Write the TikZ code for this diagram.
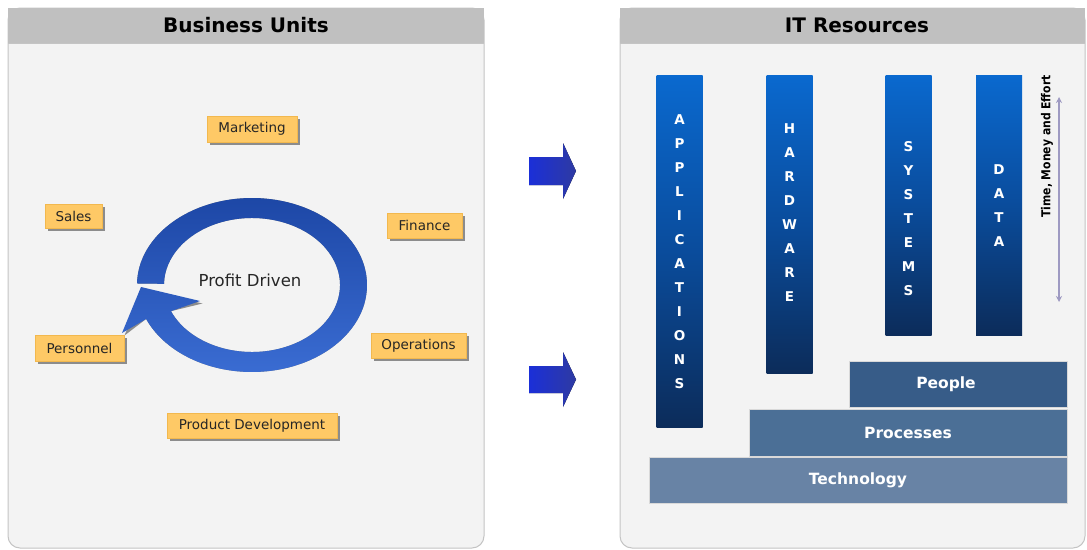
\documentclass[tikz,border=0pt]{standalone}
\usepackage{fontspec}
\setmainfont{DejaVu Sans}
\usetikzlibrary{calc,shadows,arrows.meta}
\definecolor{panelbg}{HTML}{F3F3F3}
\definecolor{panelline}{HTML}{C4C4C4}
\definecolor{headbg}{HTML}{C0C0C0}
\definecolor{boxfill}{HTML}{FEC966}
\definecolor{boxline}{HTML}{F2B84E}
\definecolor{ringtop}{HTML}{1D47A6}
\definecolor{ringbot}{HTML}{3A6CD2}
\definecolor{arrL}{HTML}{1B2FD8}
\definecolor{arrR}{HTML}{2E3AA2}
\definecolor{barTop}{HTML}{0A69CF}
\definecolor{barMid}{HTML}{0A4C9C}
\definecolor{barBot}{HTML}{0C2C5A}
\definecolor{peoplec}{HTML}{375C88}
\definecolor{procc}{HTML}{4B6F96}
\definecolor{techc}{HTML}{6883A5}
\definecolor{tmecol}{HTML}{9E9AC2}
\tikzset{
  panelbody/.style={fill=panelbg, draw=panelline, line width=1pt, rounded corners=12pt},
  panelhead/.style={fill=headbg, draw=none},
  headtext/.style={font=\fontsize{20}{23}\selectfont\bfseries, text=black},
  ybox/.style={fill=boxfill, draw=boxline, line width=0.4pt, inner sep=0pt,
     font=\fontsize{13.5}{15}\selectfont, text=black!85,
     drop shadow={shadow xshift=2.5pt, shadow yshift=-2.5pt, fill=black!55, opacity=0.8}},
  vbar/.style={shade, top color=barTop, bottom color=barBot, middle color=barMid,
     draw=none, inner sep=0pt, minimum width=46pt},
  vtext/.style={align=center, text=white, font=\fontsize{13.5}{24}\selectfont\bfseries, inner sep=0pt},
  layer/.style={draw=white!85!black, line width=0.8pt, inner sep=0pt, text=white,
     font=\fontsize{15.5}{18}\selectfont\bfseries},
  bluearrow/.style={left color=arrL, right color=arrR, draw=none}
}
\begin{document}
\begin{tikzpicture}[x=1pt,y=-1pt]
\useasboundingbox[fill=white] (0,0) rectangle (1087,549);

% ---------- left panel ----------
\path[panelbody] (8,8) rectangle (484,548);
\fill[panelhead] (8,8) rectangle (484,43);
\draw[panelline, line width=1pt] (8,43) -- (484,43);
\node[headtext] (buhead) at (246,25.5) {Business Units};

% circular arrow
\coordinate (c) at (252,285);
\path[fill=black!45, shift={(2.5,2.5)}]
  ($(c)+(181:115 and 87)$) arc[start angle=181, end angle=517, x radius=115, y radius=87]
  -- (122,333) -- (141,287) -- (200,301)
  -- ($(c)+(517:88 and 67)$) arc[start angle=517, end angle=181, x radius=88, y radius=67]
  -- cycle;
\path[top color=ringtop, bottom color=ringbot]
  ($(c)+(181:115 and 87)$) arc[start angle=181, end angle=517, x radius=115, y radius=87]
  -- (122,333) -- (141,287) -- (200,301)
  -- ($(c)+(517:88 and 67)$) arc[start angle=517, end angle=181, x radius=88, y radius=67]
  -- cycle;
\node[font=\fontsize{16.5}{18}\selectfont, text=black!85] (profit) at (250,280) {Profit Driven};

% unit boxes
\node[ybox, minimum width=90pt, minimum height=26pt] (mkt) at (252,129) {Marketing};
\node[ybox, minimum width=57pt, minimum height=24pt] (sales) at (73.5,216) {Sales};
\node[ybox, minimum width=75pt, minimum height=25pt] (fin) at (424.5,225.5) {Finance};
\node[ybox, minimum width=89pt, minimum height=26pt] (pers) at (79.5,348) {Personnel};
\node[ybox, minimum width=95pt, minimum height=25pt] (ops) at (418.5,345.5) {Operations};
\node[ybox, minimum width=170pt, minimum height=25pt] (pd) at (252,425.5) {Product Development};

% ---------- middle arrows ----------
\fill[bluearrow] (529,157) -- (563,157) -- (563,143) -- (576,171) -- (563,199) -- (563,185) -- (529,185) -- cycle;
\fill[bluearrow] (529,366) -- (563,366) -- (563,352) -- (576,379.5) -- (563,407) -- (563,393) -- (529,393) -- cycle;

% ---------- right panel ----------
\path[panelbody] (620,8) rectangle (1085,548);
\fill[panelhead] (620,8) rectangle (1085,43);
\draw[panelline, line width=1pt] (620,43) -- (1085,43);
\node[headtext] (ithead) at (857,25.5) {IT Resources};

% vertical bars
\node[vbar, minimum height=352pt] (appbar) at (679.5,251) {};
\node[vbar, minimum height=298pt] (hwbar) at (789.5,224) {};
\node[vbar, minimum height=260pt] (sysbar) at (908.5,205) {};
\node[vbar, minimum height=260pt] (databar) at (999,205) {};
\node[vtext] (applbl) at (679.5,252) {A\\P\\P\\L\\I\\C\\A\\T\\I\\O\\N\\S};
\node[vtext] (hwlbl) at (789.5,213) {H\\A\\R\\D\\W\\A\\R\\E};
\node[vtext] (syslbl) at (908.5,218.5) {S\\Y\\S\\T\\E\\M\\S};
\node[vtext] (datalbl) at (999,206) {D\\A\\T\\A};

% time, money and effort
\coordinate (ttop) at (1059,97);
\coordinate (tbot) at (1059,302);
\draw[tmecol, line width=1.3pt, {Stealth[length=6pt,width=6pt]}-{Stealth[length=6pt,width=6pt]}] (ttop) -- (tbot);
\node[rotate=90, inner sep=0pt, font=\fontsize{12.3}{14}\selectfont\bfseries] (tme) at (1047,146.5) {\scalebox{0.88}[1]{Time, Money and Effort}};

% layers
\node[layer, fill=techc, minimum width=418pt, minimum height=46pt] (tech) at (858,480) {Technology};
\node[layer, fill=procc, minimum width=318pt, minimum height=47pt] (proc) at (908,432.5) {Processes};
\node[layer, fill=peoplec, minimum width=218pt, minimum height=46pt] (people) at (958,384) {};
\node[text=white, font=\fontsize{15.5}{18}\selectfont\bfseries, inner sep=0pt] (peoplelbl) at (946,384) {People};
\end{tikzpicture}
\end{document}
